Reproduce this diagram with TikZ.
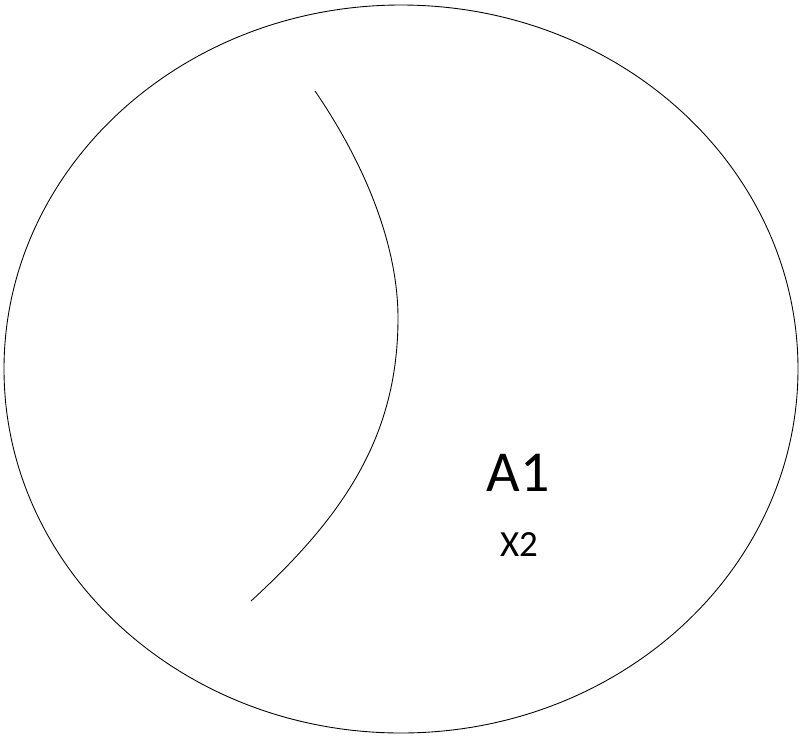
\documentclass[tikz,border=0pt]{standalone}
\usepackage{fontspec}
\setmainfont{Carlito}

\begin{document}
\begin{tikzpicture}[x=0.02cm,y=-0.02cm]
  \useasboundingbox (0,0) rectangle (802,738);

  \draw[line width=0.5pt] (401,369) ellipse [x radius=397, y radius=364];

  \draw[line width=0.5pt] (315,91) .. controls (369,170) and (398,250) .. (398,318)
    .. controls (398,435) and (345,515) .. (251,601);

  \node[font=\fontsize{33}{36}\selectfont] (aone) at (518,473) {A1};
  \node[font=\fontsize{21}{24}\selectfont] (xtwo) at (519,545) {X2};
\end{tikzpicture}
\end{document}
